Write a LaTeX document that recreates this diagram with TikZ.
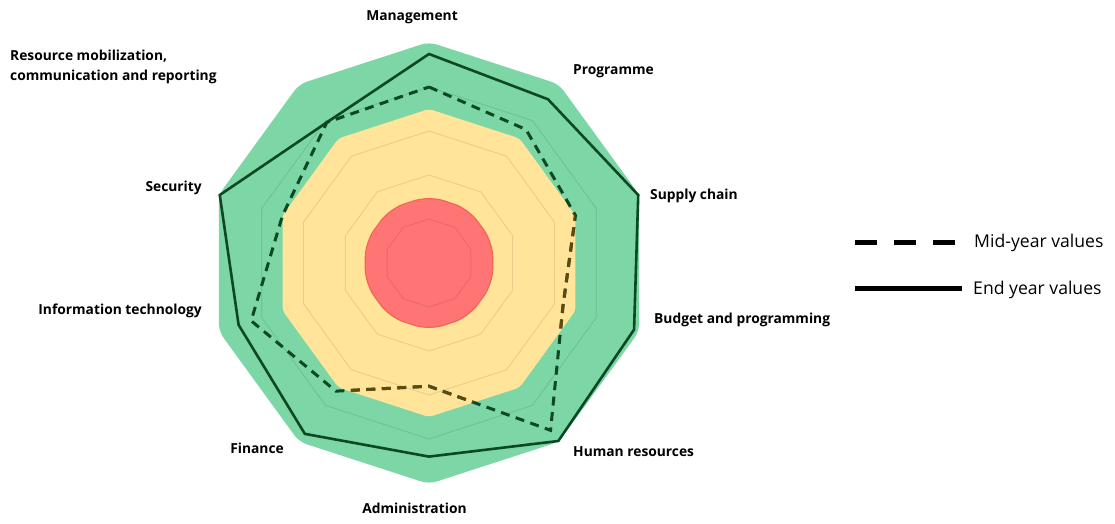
\documentclass[tikz,border=0pt]{standalone}
\usepackage{fontspec}
\setmainfont{Open Sans}
\usepackage{tikz}

\definecolor{bandgreen}{RGB}{125,214,165}
\definecolor{bandyellow}{RGB}{255,228,153}
\definecolor{bandred}{RGB}{255,117,117}
\definecolor{bandredline}{RGB}{244,102,84}
\definecolor{linegreen}{RGB}{12,72,34}
\definecolor{lineolive}{RGB}{92,74,18}

\begin{document}
\begin{tikzpicture}[x=1pt, y=1pt,
  axislabel/.style={font=\bfseries\fontsize{13.8}{20}\selectfont, inner sep=0pt},
  legendtext/.style={font=\fontsize{17.6}{20}\selectfont, inner sep=0pt, anchor=base west},
  gridring/.style={black, opacity=.09, line width=1pt},
  midyear/.style={line width=3pt, dash pattern=on 9pt off 6.5pt},
  endyear/.style={linegreen, line width=2.6pt}]
\useasboundingbox (0,0) rectangle (1115,523);

\begin{scope}[shift={(429,260)}]
% bands
\fill [bandgreen, rounded corners=8pt] (90:221) \foreach \a in {54,18,...,-234} { -- (\a:221) } -- cycle;
\fill [bandyellow, rounded corners=4pt] (90:154) \foreach \a in {54,18,...,-234} { -- (\a:154) } -- cycle;
\filldraw [fill=bandred, draw=bandredline, line width=1.2pt, rounded corners=15pt] (90:67) \foreach \a in {54,18,...,-234} { -- (\a:67) } -- cycle;
% grid
\foreach \r in {1,...,4}
  \draw [gridring] (90:{\r*44}) \foreach \a in {54,18,...,-234} { -- (\a:{\r*44}) } -- cycle;
% values
\foreach \v [count=\i from 0] in {4.0,3.75,3.5,3.2,4.7,2.8,3.6,4.25,3.5,3.95}
  \coordinate (mid\i) at ({90-36*\i}:{\v*44});
\foreach \v [count=\i from 0] in {4.75,4.6,5.0,4.9,5.0,4.4,4.8,4.55,5.0,3.95}
  \coordinate (end\i) at ({90-36*\i}:{\v*44});
\draw [midyear, linegreen] (mid0) \foreach \i in {1,...,9} { -- (mid\i) } -- cycle;
\begin{scope}
\clip (90:154) \foreach \a in {54,18,...,-234} { -- (\a:154) } -- cycle;
\draw [midyear, lineolive] (mid0) \foreach \i in {1,...,9} { -- (mid\i) } -- cycle;
\end{scope}
\draw [endyear] (end0) \foreach \i in {1,...,9} { -- (end\i) } -- cycle;
\end{scope}

% axis labels
\draw (412, 502) node (lblmgmt) [axislabel, anchor=base] {Management};
\draw (573, 448) node (lblprog) [axislabel, anchor=base west] {Programme};
\draw (650, 324) node (lblsupply) [axislabel, anchor=base west] {Supply chain};
\draw (654, 200) node (lblbudget) [axislabel, anchor=base west] {Budget and programming};
\draw (573, 67) node (lblhr) [axislabel, anchor=base west] {Human resources};
\draw (414.5, 10) node (lbladmin) [axislabel, anchor=base] {Administration};
\draw (284, 70) node (lblfin) [axislabel, anchor=base east] {Finance};
\draw (202, 209) node (lblit) [axislabel, anchor=base east] {Information technology};
\draw (202, 332) node (lblsec) [axislabel, anchor=base east] {Security};
\draw (10, 473) node (lblresmob) [axislabel, anchor=north west, align=left] {Resource mobilization,\\communication and reporting};

% legend
\coordinate (midA) at (855, 281);
\coordinate (midB) at (955, 281);
\coordinate (endA) at (855, 235);
\coordinate (endB) at (962, 235);
\draw [black, line width=5pt, dash pattern=on 22pt off 17pt] (midA) -- (midB);
\draw [black, line width=5pt] (endA) -- (endB);
\draw (974, 276) node (legmid) [legendtext] {Mid-year values};
\draw (973, 229) node (legend) [legendtext] {End year values};
\end{tikzpicture}
\end{document}
